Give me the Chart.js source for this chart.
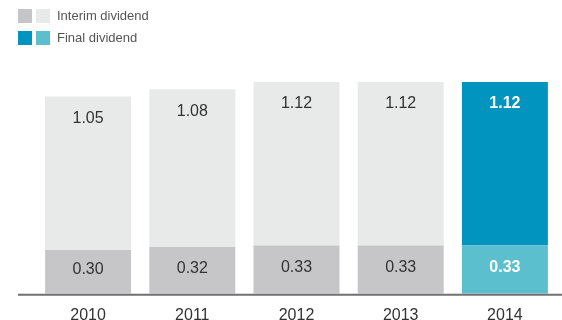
<!DOCTYPE html>
<html>
<head>
<meta charset="utf-8">
<script src="https://cdn.jsdelivr.net/npm/chart.js@4"></script>
<style>
  html, body { margin: 0; padding: 0; background: #fff; }
  body { width: 562px; height: 320px; overflow: hidden; position: relative; font-family: "Liberation Sans", Arial, sans-serif; }
  #wrap { position: absolute; left: 0; top: 0; width: 562px; height: 320px; overflow: hidden; }
  .legend { position: absolute; left: 18px; top: 9px; font-size: 13px; color: #555; }
  .legend .row { display: flex; align-items: center; height: 14px; margin-bottom: 8px; }
  .legend .sw { width: 14px; height: 14px; margin-right: 4px; }
  .legend .txt { margin-left: 3px; line-height: 14px; }
</style>
</head>
<body>
<div id="wrap"><canvas id="divChart" width="562" height="337"></canvas></div>
<div class="legend">
  <div class="row"><span class="sw" style="background:#c6c6c8"></span><span class="sw" style="background:#e8e9e9"></span><span class="txt">Interim dividend</span></div>
  <div class="row"><span class="sw" style="background:#0094be"></span><span class="sw" style="background:#5cbfce"></span><span class="txt">Final dividend</span></div>
</div>
<script>
  const years = ['2010', '2011', '2012', '2013', '2014'];
  const interim = [0.30, 0.32, 0.33, 0.33, 0.33];
  const finalDiv = [1.05, 1.08, 1.12, 1.12, 1.12];

  const interimColors = ['#c6c6c8', '#c6c6c8', '#c6c6c8', '#c6c6c8', '#5cbfce'];
  const finalColors = ['#e8e9e9', '#e8e9e9', '#e8e9e9', '#e8e9e9', '#0094be'];
  const highlight = years.length - 1;

  // values written on the bars + the baseline
  const barLabels = {
    id: 'barLabels',
    afterDatasetsDraw(chart) {
      const ctx = chart.ctx;
      ctx.save();
      ctx.textAlign = 'center';
      ctx.textBaseline = 'middle';
      chart.data.datasets.forEach((ds, di) => {
        const meta = chart.getDatasetMeta(di);
        meta.data.forEach((bar, i) => {
          const hot = i === highlight;
          ctx.font = (hot ? 'bold ' : '') + '16px "Liberation Sans", Arial, sans-serif';
          ctx.fillStyle = hot ? '#ffffff' : '#333333';
          let y;
          if (di === 0) {
            y = (bar.y + bar.base) / 2 - 2;
          } else {
            y = bar.y + 22;
          }
          ctx.fillText(ds.data[i].toFixed(2), bar.x, y);
        });
      });
      const b = chart.chartArea.bottom + 1;
      ctx.strokeStyle = '#707070';
      ctx.lineWidth = 2;
      ctx.beginPath();
      ctx.moveTo(18, b);
      ctx.lineTo(562, b);
      ctx.stroke();
      ctx.restore();
    }
  };

  new Chart(document.getElementById('divChart'), {
    type: 'bar',
    data: {
      labels: years,
      datasets: [
        { label: 'Interim dividend', data: interim, backgroundColor: interimColors, borderWidth: 0 },
        { label: 'Final dividend', data: finalDiv, backgroundColor: finalColors, borderWidth: 0 }
      ]
    },
    options: {
      responsive: false,
      animation: false,
      devicePixelRatio: 1,
      layout: { padding: { top: 60, left: 36, right: 5, bottom: 0 } },
      datasets: { bar: { categoryPercentage: 1, barPercentage: 0.825 } },
      plugins: { legend: { display: false }, tooltip: { enabled: false } },
      scales: {
        x: {
          stacked: true,
          grid: { display: false, drawTicks: false },
          border: { display: false },
          ticks: { color: '#333', font: { family: '"Liberation Sans", Arial, sans-serif', size: 16 }, padding: 12 }
        },
        y: {
          stacked: true,
          display: false,
          min: 0,
          max: 1.6
        }
      }
    },
    plugins: [barLabels]
  });
</script>
</body>
</html>
